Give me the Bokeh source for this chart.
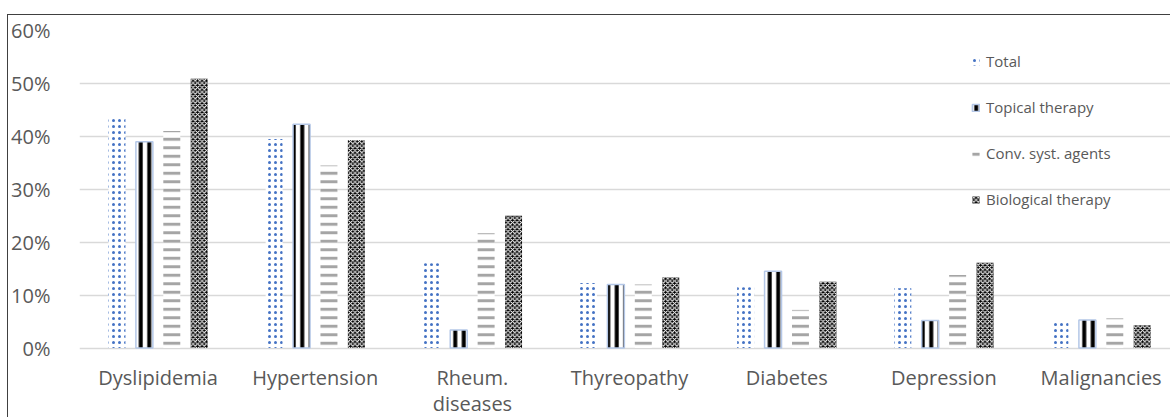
from bokeh.plotting import figure
from bokeh.models import (Range1d, FixedTicker, NumeralTickFormatter,
                          ColumnDataSource, Legend, LegendItem)
from bokeh.core.properties import value
from bokeh.embed import file_html
from bokeh.resources import INLINE

categories = ["Dyslipidemia", "Hypertension", "Rheum.\ndiseases", "Thyreopathy",
              "Diabetes", "Depression", "Malignancies"]
series_names = ["Total", "Topical therapy", "Conv. syst. agents", "Biological therapy"]
total = [0.436, 0.395, 0.160, 0.123, 0.115, 0.113, 0.050]
topical = [0.390, 0.423, 0.034, 0.120, 0.145, 0.052, 0.053]
conv_syst = [0.410, 0.345, 0.217, 0.120, 0.072, 0.138, 0.056]
biological = [0.509, 0.393, 0.250, 0.133, 0.125, 0.161, 0.043]
y_ticks = [0.0, 0.1, 0.2, 0.3, 0.4, 0.5, 0.6]

FONT = "Open Sans"
TXT = "#595959"

# figure placed at (7, 14) inside the window; its top/left CSS border is the chart border
OX, OY = 8, 15
PX_PER_UNIT = 317.5 / 0.6          # plot scale: 0..60% spans 317.5 px
y_bottom = -70.5 / PX_PER_UNIT      # room below 0% for the category labels
p = figure(width=1171 - OX, height=418 - OY, output_backend="svg", toolbar_location=None,
           x_range=Range1d(0, 1095 / 157.6), y_range=Range1d(y_bottom, 0.6),
           min_border_left=76 - OX, min_border_right=0, min_border_top=30 - OY,
           min_border_bottom=0)
p.margin = (OY - 1, 0, 0, OX - 1)
p.styles = {"border-top": "1px solid #404040", "border-left": "1px solid #404040"}
p.outline_line_color = None
p.background_fill_color = "white"
p.border_fill_color = "white"

offsets = [-0.2617, -0.0872, 0.0872, 0.2617]
bw = 0.108
series = [total, topical, conv_syst, biological]
styles = [
    dict(fill_color="white", line_color=None, hatch_pattern="dot", hatch_color="#4472C4",
         hatch_scale=6, hatch_weight=1.8),
    dict(fill_color="white", line_color="#B4C7E7", line_width=1.5, hatch_pattern="vertical_line",
         hatch_color="black", hatch_scale=8.5, hatch_weight=4),
    dict(fill_color="white", line_color=None, hatch_pattern="horizontal_line",
         hatch_color="#A5A5A5", hatch_scale=8.5, hatch_weight=3),
    dict(fill_color="black", line_color=None, hatch_pattern="diagonal_cross",
         hatch_color="white", hatch_scale=4.5, hatch_weight=1.1),
]

items = []
for k, (vals, st) in enumerate(zip(series, styles)):
    src = ColumnDataSource(dict(x=[i + 0.5 + offsets[k] for i in range(len(categories))], top=vals))
    r = p.vbar(x="x", top="top", width=bw, bottom=0, source=src, **st)
    items.append(LegendItem(label=series_names[k], renderers=[r]))

legend = Legend(items=items, location=(892, 209), orientation="vertical",
                glyph_width=9, glyph_height=9, label_height=20, spacing=26,
                padding=0, margin=0, label_standoff=6,
                border_line_color=None, background_fill_alpha=0,
                label_text_font=FONT, label_text_font_size="15px", label_text_color=TXT)
p.add_layout(legend)

# grid
p.xgrid.grid_line_color = None
p.ygrid.ticker = FixedTicker(ticks=y_ticks)
p.ygrid.grid_line_color = "#D9D9D9"
p.ygrid.grid_line_width = 1.5

# y axis
p.yaxis.ticker = FixedTicker(ticks=y_ticks)
p.yaxis.formatter = NumeralTickFormatter(format="0%")
p.yaxis.axis_line_color = None
p.yaxis.major_tick_line_color = None
p.yaxis.minor_tick_line_color = None
p.yaxis.major_label_standoff = 23
p.yaxis.major_label_text_font = FONT
p.yaxis.major_label_text_font_size = "20px"
p.yaxis.major_label_text_color = TXT

# category labels under the 0% baseline
p.xaxis.visible = False
cat_src = ColumnDataSource(dict(x=[i + 0.5 for i in range(len(categories))],
                                y=[0.0] * len(categories), text=categories))
p.text(x="x", y="y", text="text", source=cat_src, y_offset=16,
       text_align="center", text_baseline="top", text_font=value(FONT),
       text_font_size="20px", text_color=TXT, text_line_height=0.95)

open("out.html", "w").write(file_html(p, INLINE))
